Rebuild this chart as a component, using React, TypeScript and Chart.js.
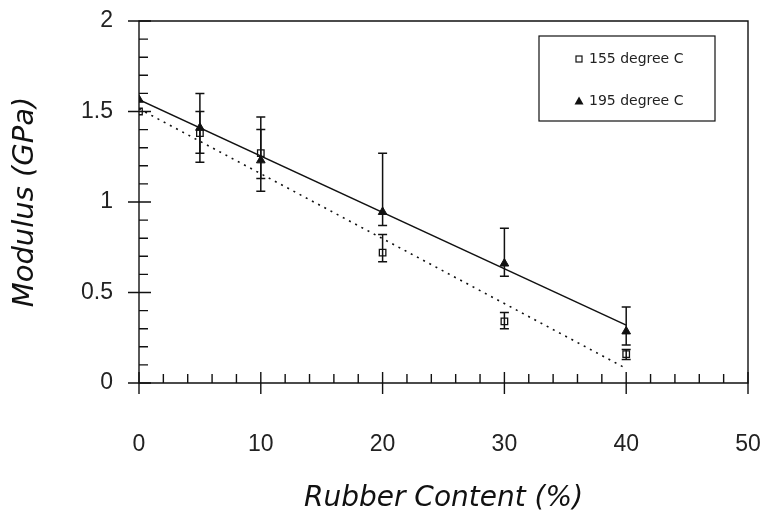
import { useEffect, useRef } from 'react';
import { Chart, registerables } from 'chart.js';

Chart.register(...registerables);

// ---- data ----
const rubberContent = [0, 5, 10, 20, 30, 40];
const modulus155 = [1.5, 1.38, 1.27, 0.72, 0.34, 0.16];
const modulus195 = [1.565, 1.41, 1.23, 0.945, 0.66, 0.285];
const err155Low = [null, 1.27, 1.13, 0.67, 0.3, 0.13];
const err155High = [null, 1.5, 1.47, 0.82, 0.39, 0.185];
const err195Low = [null, 1.22, 1.06, 0.87, 0.59, 0.21];
const err195High = [null, 1.6, 1.4, 1.27, 0.855, 0.42];
const fitX = [0, 40];
const fit155 = [1.515, 0.08];
const fit195 = [1.565, 0.32];

const xTickValues = [0, 10, 20, 30, 40, 50];
const xTickLabels = ['0', '10', '20', '30', '40', '50'];
const yTickValues = [0, 0.5, 1, 1.5, 2];
const yTickLabels = ['0', '0.5', '1', '1.5', '2'];
const xMinorStep = 2;
const yMinorStep = 0.1;

const legendLabels = ['155 degree C', '195 degree C'];
const xTitle = 'Rubber Content (%)';
const yTitle = 'Modulus (GPa)';

const INK = '#111';

function drawErrBars(chart: any, xs: number[], lo: (number | null)[], hi: (number | null)[]) {
  const { ctx, scales } = chart;
  const x = scales.x;
  const y = scales.y;
  for (let i = 0; i < xs.length; i++) {
    const l = lo[i];
    const h = hi[i];
    if (l == null || h == null) continue;
    const px = x.getPixelForValue(xs[i]);
    const pl = y.getPixelForValue(l);
    const ph = y.getPixelForValue(h);
    ctx.beginPath();
    ctx.moveTo(px, pl);
    ctx.lineTo(px, ph);
    ctx.moveTo(px - 4.5, pl);
    ctx.lineTo(px + 4.5, pl);
    ctx.moveTo(px - 4.5, ph);
    ctx.lineTo(px + 4.5, ph);
    ctx.stroke();
  }
}

const framePlugin = {
  id: 'frame',
  afterDatasetsDraw(chart: any) {
    const { ctx, chartArea: ca, scales } = chart;
    const x = scales.x;
    const y = scales.y;
    ctx.save();
    ctx.strokeStyle = INK;
    ctx.lineWidth = 1.5;
    // error bars
    drawErrBars(chart, rubberContent, err155Low, err155High);
    drawErrBars(chart, rubberContent, err195Low, err195High);
    ctx.lineWidth = 1.4;
    ctx.beginPath();
    ctx.rect(ca.left, ca.top, ca.right - ca.left, ca.bottom - ca.top);
    ctx.stroke();
    ctx.beginPath();
    // y major ticks (crossing)
    for (const v of yTickValues) {
      const py = y.getPixelForValue(v);
      ctx.moveTo(ca.left - 11, py);
      ctx.lineTo(ca.left + 12, py);
    }
    // y minor ticks (inside)
    const yMax = yTickValues[yTickValues.length - 1];
    for (let i = 1; i * yMinorStep < yMax - 1e-9; i++) {
      const v = i * yMinorStep;
      if (yTickValues.some((t) => Math.abs(t - v) < 1e-6)) continue;
      const py = y.getPixelForValue(v);
      ctx.moveTo(ca.left, py);
      ctx.lineTo(ca.left + 9, py);
    }
    // x major ticks (crossing)
    for (const v of xTickValues) {
      const px = x.getPixelForValue(v);
      ctx.moveTo(px, ca.bottom - 11);
      ctx.lineTo(px, ca.bottom + 11);
    }
    // x minor ticks (inside)
    const xMax = xTickValues[xTickValues.length - 1];
    for (let i = 1; i * xMinorStep < xMax - 1e-9; i++) {
      const v = i * xMinorStep;
      if (xTickValues.some((t) => Math.abs(t - v) < 1e-6)) continue;
      const px = x.getPixelForValue(v);
      ctx.moveTo(px, ca.bottom - 9);
      ctx.lineTo(px, ca.bottom);
    }
    ctx.stroke();

    // legend box
    const lx = 539, ly = 36, lw = 176, lh = 85;
    ctx.lineWidth = 1.2;
    ctx.strokeRect(lx, ly, lw, lh);
    ctx.font = '14px "DejaVu Sans", sans-serif';
    ctx.fillStyle = '#222';
    ctx.textBaseline = 'middle';
    ctx.textAlign = 'left';
    // square marker
    ctx.lineWidth = 1.2;
    ctx.strokeRect(576, 56, 6, 6);
    ctx.fillText(legendLabels[0], 589, 59);
    // triangle marker
    ctx.fillStyle = INK;
    ctx.beginPath();
    ctx.moveTo(579, 96.5);
    ctx.lineTo(583.5, 104.5);
    ctx.lineTo(574.5, 104.5);
    ctx.closePath();
    ctx.fill();
    ctx.fillStyle = '#222';
    ctx.fillText(legendLabels[1], 589, 101);
    ctx.restore();
  },
};

export default function App() {
  const ref = useRef<HTMLCanvasElement | null>(null);

  useEffect(() => {
    document.body.style.margin = '0';
    const canvas = ref.current;
    if (!canvas) return;
    const pts = (xs: number[], ys: number[]) => xs.map((x, i) => ({ x, y: ys[i] }));
    const chart = new Chart(canvas, {
      type: 'scatter',
      data: {
        datasets: [
          {
            label: legendLabels[1],
            data: pts(rubberContent, modulus195),
            pointStyle: 'triangle',
            pointRadius: 5,
            backgroundColor: INK,
            borderColor: INK,
            borderWidth: 1,
          },
          {
            label: legendLabels[0],
            data: pts(rubberContent, modulus155),
            pointStyle: 'rect',
            pointRadius: 4.6,
            backgroundColor: 'rgba(0,0,0,0)',
            borderColor: INK,
            borderWidth: 1.3,
          },
          {
            type: 'line',
            label: 'fit 195',
            data: pts(fitX, fit195),
            showLine: true,
            pointRadius: 0,
            borderColor: INK,
            borderWidth: 1.5,
            fill: false,
          },
          {
            type: 'line',
            label: 'fit 155',
            data: pts(fitX, fit155),
            showLine: true,
            pointRadius: 0,
            borderColor: INK,
            borderWidth: 1.6,
            borderDash: [2, 5],
            fill: false,
          },
        ] as any,
      },
      options: {
        animation: false,
        responsive: true,
        maintainAspectRatio: false,
        layout: { padding: { top: 21, right: 14, left: 0, bottom: 0 } },
        plugins: {
          legend: { display: false },
          tooltip: { enabled: false },
        },
        scales: {
          x: {
            type: 'linear',
            min: 0,
            max: 50,
            grid: { display: false, drawTicks: true, tickLength: 48 },
            border: { display: false },
            afterBuildTicks: (s: any) => {
              s.ticks = xTickValues.map((v) => ({ value: v }));
            },
            afterFit: (s: any) => {
              s.height = 133;
            },
            ticks: {
              autoSkip: false,
              maxRotation: 0,
              padding: 0,
              color: '#222',
              font: { family: '"Liberation Sans", Arial, sans-serif', size: 23 },
              callback: (v: any) => xTickLabels[xTickValues.indexOf(Number(v))] ?? '',
            },
            title: {
              display: true,
              text: xTitle,
              color: INK,
              padding: { top: 0, bottom: 0 },
              font: { family: '"DejaVu Sans", sans-serif', size: 28, style: 'italic' },
            },
          },
          y: {
            type: 'linear',
            min: 0,
            max: 2,
            grid: { display: false, drawTicks: true, tickLength: 26 },
            border: { display: false },
            afterBuildTicks: (s: any) => {
              s.ticks = yTickValues.map((v) => ({ value: v }));
            },
            afterFit: (s: any) => {
              s.width = 139;
            },
            ticks: {
              autoSkip: false,
              padding: 0,
              color: '#222',
              font: { family: '"Liberation Sans", Arial, sans-serif', size: 23 },
              callback: (v: any) => yTickLabels[yTickValues.indexOf(Number(v))] ?? '',
            },
            title: {
              display: true,
              text: yTitle,
              color: INK,
              padding: { top: 8, bottom: 0 },
              font: { family: '"DejaVu Sans", sans-serif', size: 29, style: 'italic' },
            },
          },
        },
      } as any,
      plugins: [framePlugin],
    });
    return () => chart.destroy();
  }, []);

  return (
    <div style={{ width: 762, height: 516, position: 'relative' }}>
      <canvas ref={ref} />
    </div>
  );
}
